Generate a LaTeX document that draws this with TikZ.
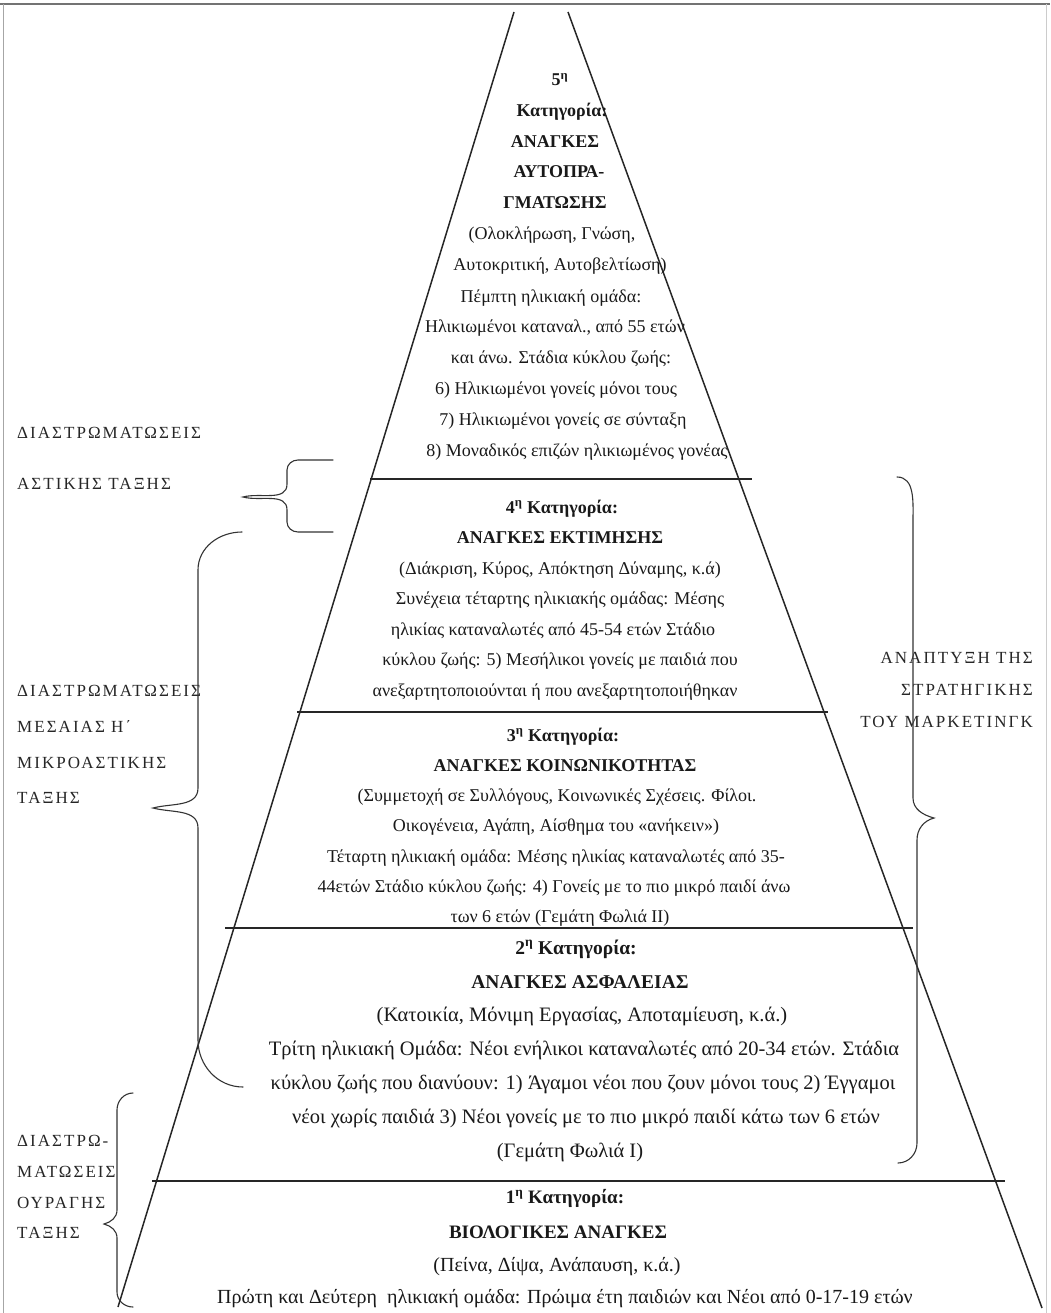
\documentclass[tikz,border=0pt]{standalone}
\usepackage{fontspec}
\setmainfont{Liberation Serif}
\newfontfamily\sidefont[LetterSpace=12]{Liberation Serif}

\tikzset{
  pyr/.style={line width=1.5pt, black!85},
  tier/.style={line width=1.4pt, black!85},
  bracket/.style={line width=1.1pt, black!80, line cap=round},
  scanedge/.style={line width=0.8pt, black!35},
  txt/.style={anchor=base, inner sep=0pt, font=\fontsize{18}{20}\selectfont, text=black!90},
  head/.style={txt, font=\fontsize{18}{20}\selectfont\bfseries},
  txtB/.style={txt, font=\fontsize{20.5}{22}\selectfont},
  headB/.style={txt, font=\fontsize{19.5}{22}\selectfont\bfseries},
  txtA/.style={txt, font=\fontsize{20}{22}\selectfont},
  headA/.style={txt, font=\fontsize{19}{22}\selectfont\bfseries},
  side/.style={anchor=base west, inner sep=0pt, font=\fontsize{17}{20}\selectfont\sidefont, text=black!85},
  sider/.style={side, anchor=base east}
}

\begin{document}
\begin{tikzpicture}[x=1pt,y=-1pt]
\useasboundingbox (0,0) rectangle (1050,1313);

% page edges of the sheet
\draw[scanedge, line width=1.5pt, black!55] (0,4) -- (1050,4);
\draw[scanedge] (3,4) -- (3,1313);
\draw[scanedge, black!20] (1046,4) -- (1046,1313);

% pyramid sides
\coordinate (apexL) at (514,12);
\coordinate (apexR) at (568,12);
\coordinate (baseL) at (118,1307);
\coordinate (baseR) at (1042,1308);
\draw[pyr] (apexL) -- (baseL);
\draw[pyr] (apexR) -- (baseR);

% tier boundaries
\coordinate (t45L) at (370,479);  \coordinate (t45R) at (752,479);
\coordinate (t34L) at (297,712);  \coordinate (t34R) at (828,712);
\coordinate (t23L) at (225,928);  \coordinate (t23R) at (913,928);
\coordinate (t12L) at (152,1181); \coordinate (t12R) at (1005,1181);
\draw[tier] (t45L) -- (t45R);
\draw[tier] (t34L) -- (t34R);
\draw[tier] (t23L) -- (t23R);
\draw[tier] (t12L) -- (t12R);

% 5th tier
\node[head] (c5a) at (560,86) {5\textsuperscript{η}};
\node[head] (c5b) at (562,117) {Κατηγορία:};
\node[head] (c5c) at (555,148) {ΑΝΑΓΚΕΣ};
\node[head] (c5d) at (559,178) {ΑΥΤΟΠΡΑ-};
\node[head] (c5e) at (555,209) {ΓΜΑΤΩΣΗΣ};
\node[txt] (c5f) at (552,240) {(Ολοκλήρωση, Γνώση,};
\node[txt] (c5g) at (560,271) {Αυτοκριτική, Αυτοβελτίωση)};
\node[txt] (c5h) at (551,302) {Πέμπτη ηλικιακή ομάδα:};
\node[txt] (c5i) at (555,332) {Ηλικιωμένοι καταναλ., από 55 ετών};
\node[txt] (c5j) at (561,363) {και άνω. Στάδια κύκλου ζωής:};
\node[txt] (c5k) at (556,394) {6) Ηλικιωμένοι γονείς μόνοι τους};
\node[txt] (c5l) at (563,425) {7) Ηλικιωμένοι γονείς σε σύνταξη};
\node[txt] (c5m) at (577,456) {8) Μοναδικός επιζών ηλικιωμένος γονέας};

% 4th tier
\node[head] (c4a) at (562,513) {4\textsuperscript{η} Κατηγορία:};
\node[head] (c4b) at (560,543.5) {ΑΝΑΓΚΕΣ ΕΚΤΙΜΗΣΗΣ};
\node[txt] (c4c) at (560,574) {(Διάκριση, Κύρος, Απόκτηση Δύναμης, κ.ά)};
\node[txt] (c4d) at (560,604.5) {Συνέχεια τέταρτης ηλικιακής ομάδας: Μέσης};
\node[txt] (c4e) at (553,635) {ηλικίας καταναλωτές από 45-54 ετών Στάδιο};
\node[txt] (c4f) at (560,665.5) {κύκλου ζωής: 5) Μεσήλικοι γονείς με παιδιά που};
\node[txt] (c4g) at (555,696) {ανεξαρτητοποιούνται ή που ανεξαρτητοποιήθηκαν};

% 3rd tier
\node[head] (c3a) at (563,741) {3\textsuperscript{η} Κατηγορία:};
\node[head] (c3b) at (565,771) {ΑΝΑΓΚΕΣ ΚΟΙΝΩΝΙΚΟΤΗΤΑΣ};
\node[txt] (c3c) at (557,801.5) {(Συμμετοχή σε Συλλόγους, Κοινωνικές Σχέσεις. Φίλοι.};
\node[txt] (c3d) at (556,831.5) {Οικογένεια, Αγάπη, Αίσθημα του «ανήκειν»)};
\node[txt] (c3e) at (556,862) {Τέταρτη ηλικιακή ομάδα: Μέσης ηλικίας καταναλωτές από 35-};
\node[txt] (c3f) at (554,892) {44ετών Στάδιο κύκλου ζωής: 4) Γονείς με το πιο μικρό παιδί άνω};
\node[txt] (c3g) at (560,922) {των 6 ετών (Γεμάτη Φωλιά ΙΙ)};

% 2nd tier
\node[headB] (c2a) at (576,954) {2\textsuperscript{η} Κατηγορία:};
\node[headB] (c2b) at (580,988) {ΑΝΑΓΚΕΣ ΑΣΦΑΛΕΙΑΣ};
\node[txtB] (c2c) at (582,1021) {(Κατοικία, Μόνιμη Εργασίας, Αποταμίευση, κ.ά.)};
\node[txtB] (c2d) at (584,1055) {Τρίτη ηλικιακή Ομάδα: Νέοι ενήλικοι καταναλωτές από 20-34 ετών. Στάδια};
\node[txtB] (c2e) at (583,1089) {κύκλου ζωής που διανύουν: 1) Άγαμοι νέοι που ζουν μόνοι τους 2) Έγγαμοι};
\node[txtB] (c2f) at (586,1123) {νέοι χωρίς παιδιά 3) Νέοι γονείς με το πιο μικρό παιδί κάτω των 6 ετών};
\node[txtB] (c2g) at (570,1157) {(Γεμάτη Φωλιά Ι)};

% 1st tier
\node[headA] (c1a) at (565,1203) {1\textsuperscript{η} Κατηγορία:};
\node[headA] (c1b) at (558,1238) {ΒΙΟΛΟΓΙΚΕΣ ΑΝΑΓΚΕΣ};
\node[txtA] (c1c) at (557,1271) {(Πείνα, Δίψα, Ανάπαυση, κ.ά.)};
\node[txtA] (c1d) at (565,1303) {Πρώτη και Δεύτερη\ \ ηλικιακή ομάδα: Πρώιμα έτη παιδιών και Νέοι από 0-17-19 ετών};

% class labels on the left
\node[side] (upA) at (17,438) {ΔΙΑΣΤΡΩΜΑΤΩΣΕΙΣ};
\node[side] (upB) at (17,489) {ΑΣΤΙΚΗΣ ΤΑΞΗΣ};
\node[side] (midA) at (17,696) {ΔΙΑΣΤΡΩΜΑΤΩΣΕΙΣ};
\node[side] (midB) at (17,732) {ΜΕΣΑΙΑΣ Η΄};
\node[side] (midC) at (17,768) {ΜΙΚΡΟΑΣΤΙΚΗΣ};
\node[side] (midD) at (17,803) {ΤΑΞΗΣ};
\node[side] (lowA) at (17,1146) {ΔΙΑΣΤΡΩ-};
\node[side] (lowB) at (17,1177) {ΜΑΤΩΣΕΙΣ};
\node[side] (lowC) at (17,1208) {ΟΥΡΑΓΗΣ};
\node[side] (lowD) at (17,1238) {ΤΑΞΗΣ};

% strategy label on the right
\node[sider] (rA) at (1033,663) {ΑΝΑΠΤΥΞΗ ΤΗΣ};
\node[sider] (rB) at (1033,695) {ΣΤΡΑΤΗΓΙΚΗΣ};
\node[sider] (rC) at (1033,727) {ΤΟΥ ΜΑΡΚΕΤΙΝΓΚ};

% curly brackets
\draw[bracket] (333,460) -- (298,460) to[out=180,in=90] (287,470) -- (287,484)
  to[out=-90,in=15] (243,497) to[out=-15,in=90] (287,510) -- (287,522)
  to[out=-90,in=180] (298,532) -- (333,532);
\draw[bracket] (242,532) to[out=180,in=90] (198,570) -- (198,788)
  to[out=-90,in=15] (153,808) to[out=-15,in=90] (198,828) -- (198,1040)
  to[out=-90,in=180] (243,1087);
\draw[bracket] (133,1093) to[out=180,in=90] (117,1110) -- (117,1210)
  to[out=-90,in=15] (104,1224) to[out=-15,in=90] (117,1238) -- (117,1292)
  to[out=-90,in=180] (133,1307);
\draw[bracket] (897,477) to[out=0,in=90] (913,520) -- (913,798)
  to[out=-90,in=165] (934,818) to[out=195,in=90] (917,840) -- (917,1143)
  to[out=-90,in=0] (898,1163);
\end{tikzpicture}
\end{document}
